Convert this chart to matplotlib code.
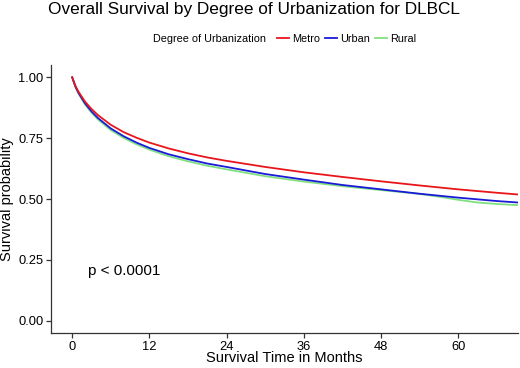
import numpy as np
import matplotlib.pyplot as plt

plt.rcParams['font.family'] = ['Liberation Sans', 'DejaVu Sans']

months = [0, 0.5, 1, 2, 3, 4, 6, 8, 10, 12, 15, 18, 21, 24, 30, 36, 42, 48, 54, 57, 60, 63, 66, 69.3]
metro = [1.0, 0.965, 0.94, 0.9, 0.87, 0.845, 0.805, 0.775, 0.752, 0.732, 0.708, 0.688, 0.671, 0.657, 0.632, 0.610, 0.591, 0.573, 0.556, 0.548, 0.540, 0.533, 0.526, 0.519]
urban = [1.0, 0.962, 0.935, 0.893, 0.86, 0.833, 0.79, 0.758, 0.732, 0.710, 0.684, 0.664, 0.646, 0.632, 0.603, 0.580, 0.558, 0.540, 0.522, 0.514, 0.506, 0.499, 0.492, 0.486]
rural = [1.0, 0.96, 0.932, 0.888, 0.855, 0.827, 0.783, 0.751, 0.725, 0.703, 0.676, 0.655, 0.637, 0.622, 0.594, 0.572, 0.553, 0.537, 0.521, 0.510, 0.497, 0.486, 0.480, 0.475]

labels = ['Metro', 'Urban', 'Rural']
colors = ['#e8161b', '#1a1ad8', '#80e080']

fig = plt.figure(figsize=(5.2, 3.68), dpi=100)
ax = fig.add_axes([0.098, 0.095, 0.898, 0.728])

l_rural, = ax.plot(months, rural, color=colors[2], lw=1.3, zorder=2)
l_urban, = ax.plot(months, urban, color=colors[1], lw=1.3, zorder=3)
l_metro, = ax.plot(months, metro, color=colors[0], lw=1.3, zorder=4)

ax.set_xlim(-3.3, 69.3)
ax.set_ylim(-0.05, 1.05)
ax.set_xticks([0, 12, 24, 36, 48, 60])
ax.set_yticks([0, 0.25, 0.5, 0.75, 1.0])
ax.set_yticklabels(['0.00', '0.25', '0.50', '0.75', '1.00'])
for s in ['top', 'right']:
    ax.spines[s].set_visible(False)
for s in ['left', 'bottom']:
    ax.spines[s].set_color('#333333')
    ax.spines[s].set_linewidth(0.9)
ax.tick_params(colors='#333333', labelcolor='black', labelsize=9.3, length=3.5, width=0.9, pad=2)
ax.set_xlabel('Survival Time in Months', fontsize=10.5, labelpad=-1)
ax.set_ylabel('Survival probability', fontsize=10.5, labelpad=3)

ax.text(2.5, 0.204, 'p < 0.0001', fontsize=11, va='center', ha='left')

fig.text(0.489, 0.995, 'Overall Survival by Degree of Urbanization for DLBCL', fontsize=12.4, ha='center', va='top')
fig.text(0.294, 0.895, 'Degree of Urbanization', fontsize=7.8, ha='left', va='center')
fig.legend([l_metro, l_urban, l_rural], labels, loc='center left', bbox_to_anchor=(0.533, 0.895), ncol=3,
           frameon=False, fontsize=7.8, handlelength=1.1, handletextpad=0.3, columnspacing=0.45,
           borderpad=0, borderaxespad=0)

fig.savefig('out.png', dpi=100)
